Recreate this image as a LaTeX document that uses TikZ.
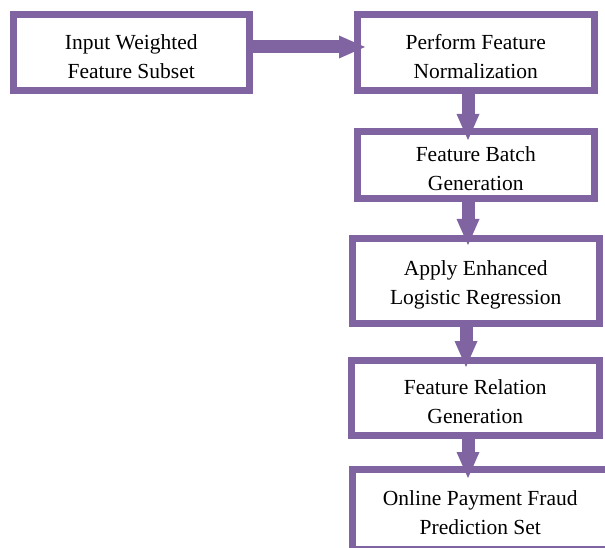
\documentclass[tikz,border=0pt]{standalone}
\usepackage{fontspec}
\setmainfont{Liberation Serif}
\usetikzlibrary{arrows.meta}
\definecolor{purp}{HTML}{8064A2}
\newcommand{\tstr}{\rule{0pt}{22pt}}
\begin{document}
\begin{tikzpicture}[x=1pt,y=-1pt,
  box/.style={draw=purp, line width=7pt, fill=white, inner sep=0pt, outer sep=0pt,
    align=center, font=\fontsize{21.5pt}{29pt}\selectfont, text=black},
  conn/.style={draw=purp, line width=13pt,
    -{Triangle[width=23pt,length=26pt,line width=0pt]}}]
\useasboundingbox (0,0) rectangle (605,548);
\clip (0,0) rectangle (605,548);
\node[box, minimum width=235.5pt, minimum height=76pt] (b1) at (131.25,53) {\tstr Input Weighted\\Feature Subset};
\node[box, minimum width=237.5pt, minimum height=76pt] (b2) at (475.75,53) {\tstr Perform Feature\\Normalization};
\node[box, minimum width=237.5pt, minimum height=67.5pt] (b3) at (475.75,165.25) {\tstr Feature Batch\\Generation};
\node[box, minimum width=246.5pt, minimum height=85pt] (b4) at (475.75,281) {\tstr Apply Enhanced\\Logistic Regression};
\node[box, minimum width=247.5pt, minimum height=75.5pt] (b5) at (475.25,397.75) {\tstr Feature Relation\\Generation};
\node[box, minimum width=255.5pt, minimum height=80.5pt] (b6) at (480.25,509.25) {\tstr Online Payment Fraud\\Prediction Set};
\draw[conn] ([yshift=6pt]b1.east) -- ([xshift=8pt,yshift=6pt]b2.west);
\draw[conn] ([xshift=-7.75pt]b2.south) -- ([xshift=-7.75pt,yshift=-8.5pt]b3.north);
\draw[conn] ([xshift=-7.75pt]b3.south) -- ([xshift=-7.75pt,yshift=-6.5pt]b4.north);
\draw[conn] ([xshift=-9.75pt]b4.south) -- ([xshift=-9.25pt,yshift=-7pt]b5.north);
\draw[conn] ([xshift=-7.25pt]b5.south) -- ([xshift=-12.25pt,yshift=-9pt]b6.north);
\end{tikzpicture}
\end{document}
